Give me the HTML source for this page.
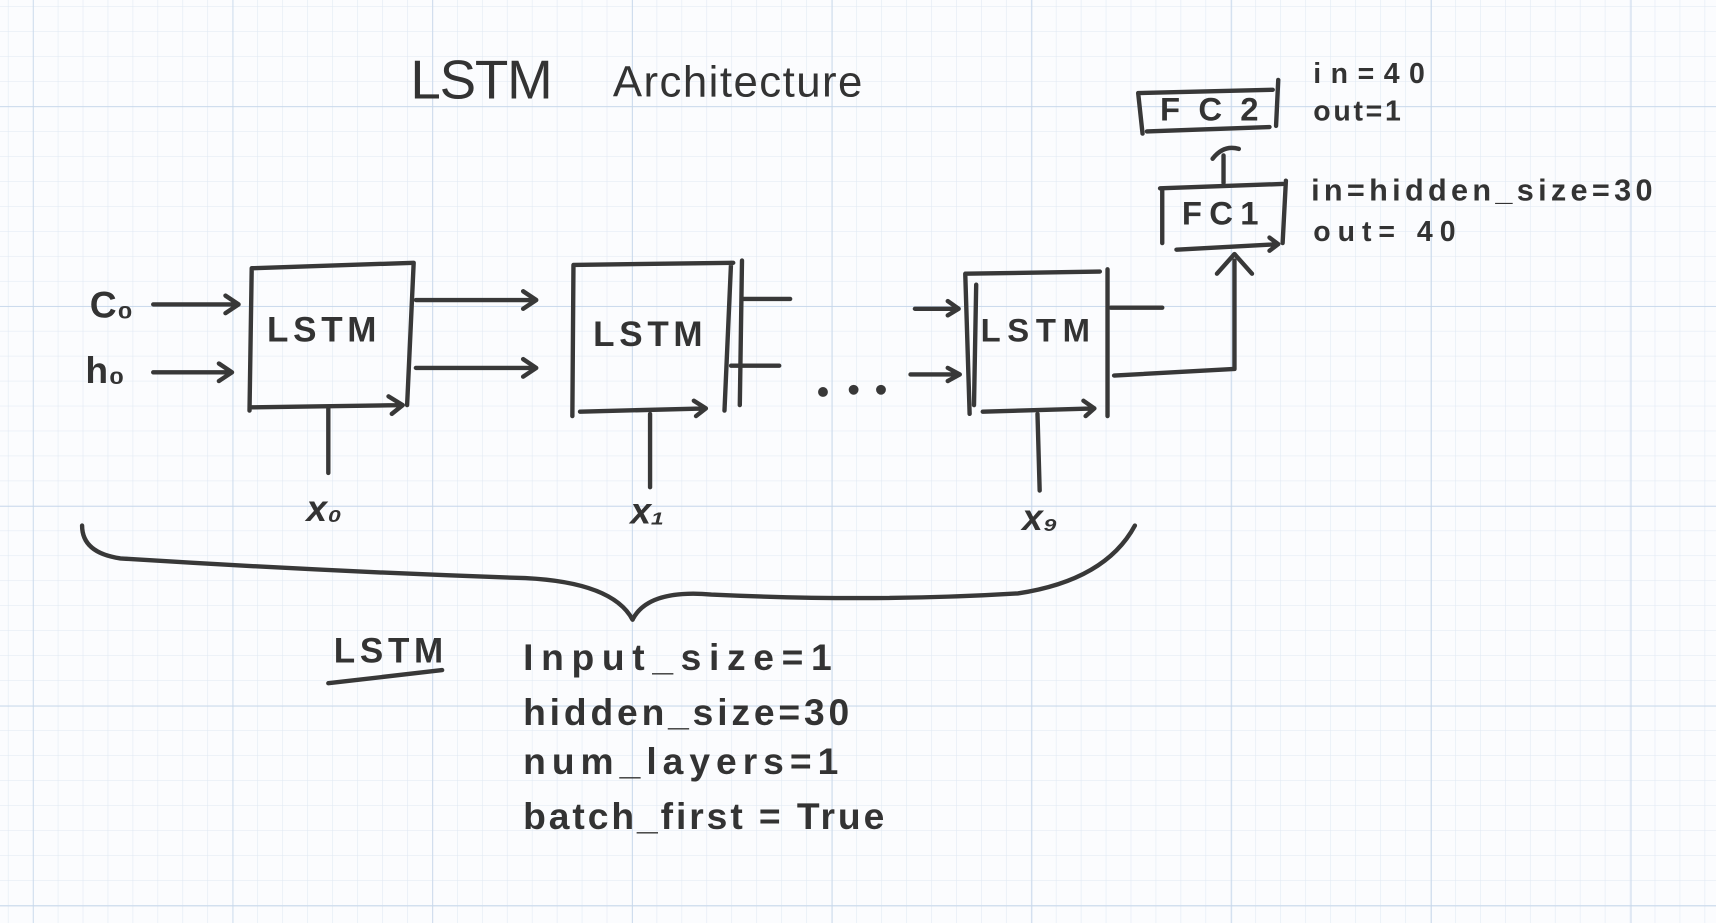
<!DOCTYPE html>
<html><head><meta charset="utf-8"><style>
html,body{margin:0;padding:0;background:#fbfcfe;}
svg{display:block}
text{font-family:"Liberation Sans Narrow","Liberation Sans",sans-serif;fill:#333;font-weight:bold}
</style></head><body>
<svg width="1716" height="923" viewBox="0 0 1568 843" preserveAspectRatio="none" xmlns="http://www.w3.org/2000/svg">
<defs>
<pattern id="minor" x="30" y="97" width="22.8" height="22.8" patternUnits="userSpaceOnUse">
<path d="M0 0V22.8M0 0H22.8" stroke="#dfe8f3" stroke-width="1" fill="none"/>
</pattern>
<pattern id="major" x="30" y="97" width="182.5" height="182.5" patternUnits="userSpaceOnUse">
<path d="M0 0V182.5M0 0H182.5" stroke="#c5d6ea" stroke-width="1.5" fill="none"/>
</pattern>
</defs>
<rect width="1568" height="843" fill="#fbfcfe"/>
<rect width="1568" height="843" fill="url(#minor)"/>
<rect width="1568" height="843" fill="url(#major)"/>
<g stroke="#383838" stroke-width="4" fill="none" stroke-linecap="round" stroke-linejoin="round">
<path d="M230 245 L378 240 M230 245 L228 375 M378 240 L372 370 M230 372 L368 370 M355 362 L368 370 L358 378"/>
<path d="M300 372 V432"/>
<path d="M140 278 H218 M206 270 L218 278 L206 286"/>
<path d="M140 340 H212 M200 332 L212 340 L200 348"/>
<path d="M380 274 H490 M478 266 L490 274 L478 282"/>
<path d="M380 336 H490 M478 328 L490 336 L478 344"/>
<path d="M524 242 L670 240 M524 242 L523 380 M678 238 L676 370 M668 240 L662 375 M530 376 L645 373 M634 366 L645 373 L636 380"/>
<path d="M594 378 V445"/>
<path d="M678 273 H722 M668 334 H712"/>
<circle cx="752" cy="358" r="2.5" fill="#383838"/>
<circle cx="780" cy="356" r="2.5" fill="#383838"/>
<circle cx="805" cy="356" r="2.5" fill="#383838"/>
<path d="M836 282 H874 M866 275 L876 282 L866 288"/>
<path d="M832 342 H876 M866 336 L877 342 L866 348"/>
<path d="M882 250 L1005 248 M882 250 L886 378 M892 260 L890 370 M1012 246 L1012 380 M898 376 L1000 373 M990 366 L1000 373 L992 380"/>
<path d="M948 378 L950 448"/>
<path d="M1015 281 H1062"/>
<path d="M1018 343 L1128 337 V238 M1112 250 L1128 232 L1144 250"/>
<path d="M1060 172 L1172 168 M1062 172 L1062 222 M1175 165 L1172 222 M1075 228 L1168 223 M1160 217 L1168 223 L1160 229"/>
<path d="M1118 167 V142 M1108 145 Q1118 132 1132 136"/>
<path d="M1040 85 L1163 82 M1040 85 L1044 122 M1168 73 L1166 115 M1048 120 L1160 116"/>
<path d="M75 480 Q75 505 110 510 Q300 522 480 528 Q560 532 578 566 Q592 538 650 543 Q800 550 930 542 Q1010 530 1037 480"/>
<path d="M300 624 L404 612"/>
</g>
<text x="375" y="90" font-size="50" textLength="130" style="font-weight:normal">LSTM</text>
<text x="560" y="88" font-size="40" textLength="228" style="font-weight:normal">Architecture</text>
<text x="82" y="290" font-size="34">C₀</text>
<text x="78" y="350" font-size="34">h₀</text>
<text x="244" y="312" font-size="32" textLength="100">LSTM</text>
<text x="542" y="316" font-size="32" textLength="100">LSTM</text>
<text x="896" y="312" font-size="30" textLength="100">LSTM</text>
<text x="280" y="476" font-size="34" font-style="italic">x₀</text>
<text x="576" y="478" font-size="34" font-style="italic">x₁</text>
<text x="934" y="484" font-size="34" font-style="italic">x₉</text>
<text x="1060" y="110" font-size="30" textLength="90">FC2</text>
<text x="1080" y="205" font-size="30" textLength="70">FC1</text>
<text x="1200" y="76" font-size="26" textLength="102">in=40</text>
<text x="1200" y="110" font-size="26" textLength="80">out=1</text>
<text x="1198" y="183" font-size="28" textLength="312">in=hidden_size=30</text>
<text x="1200" y="220" font-size="26" textLength="130">out= 40</text>
<text x="305" y="605" font-size="32" textLength="100">LSTM</text>
<text x="478" y="612" font-size="34" textLength="282">Input_size=1</text>
<text x="478" y="662" font-size="34" textLength="298">hidden_size=30</text>
<text x="478" y="707" font-size="34" textLength="288">num_layers=1</text>
<text x="478" y="757" font-size="34" textLength="330">batch_first = True</text>
</svg>
</body></html>
